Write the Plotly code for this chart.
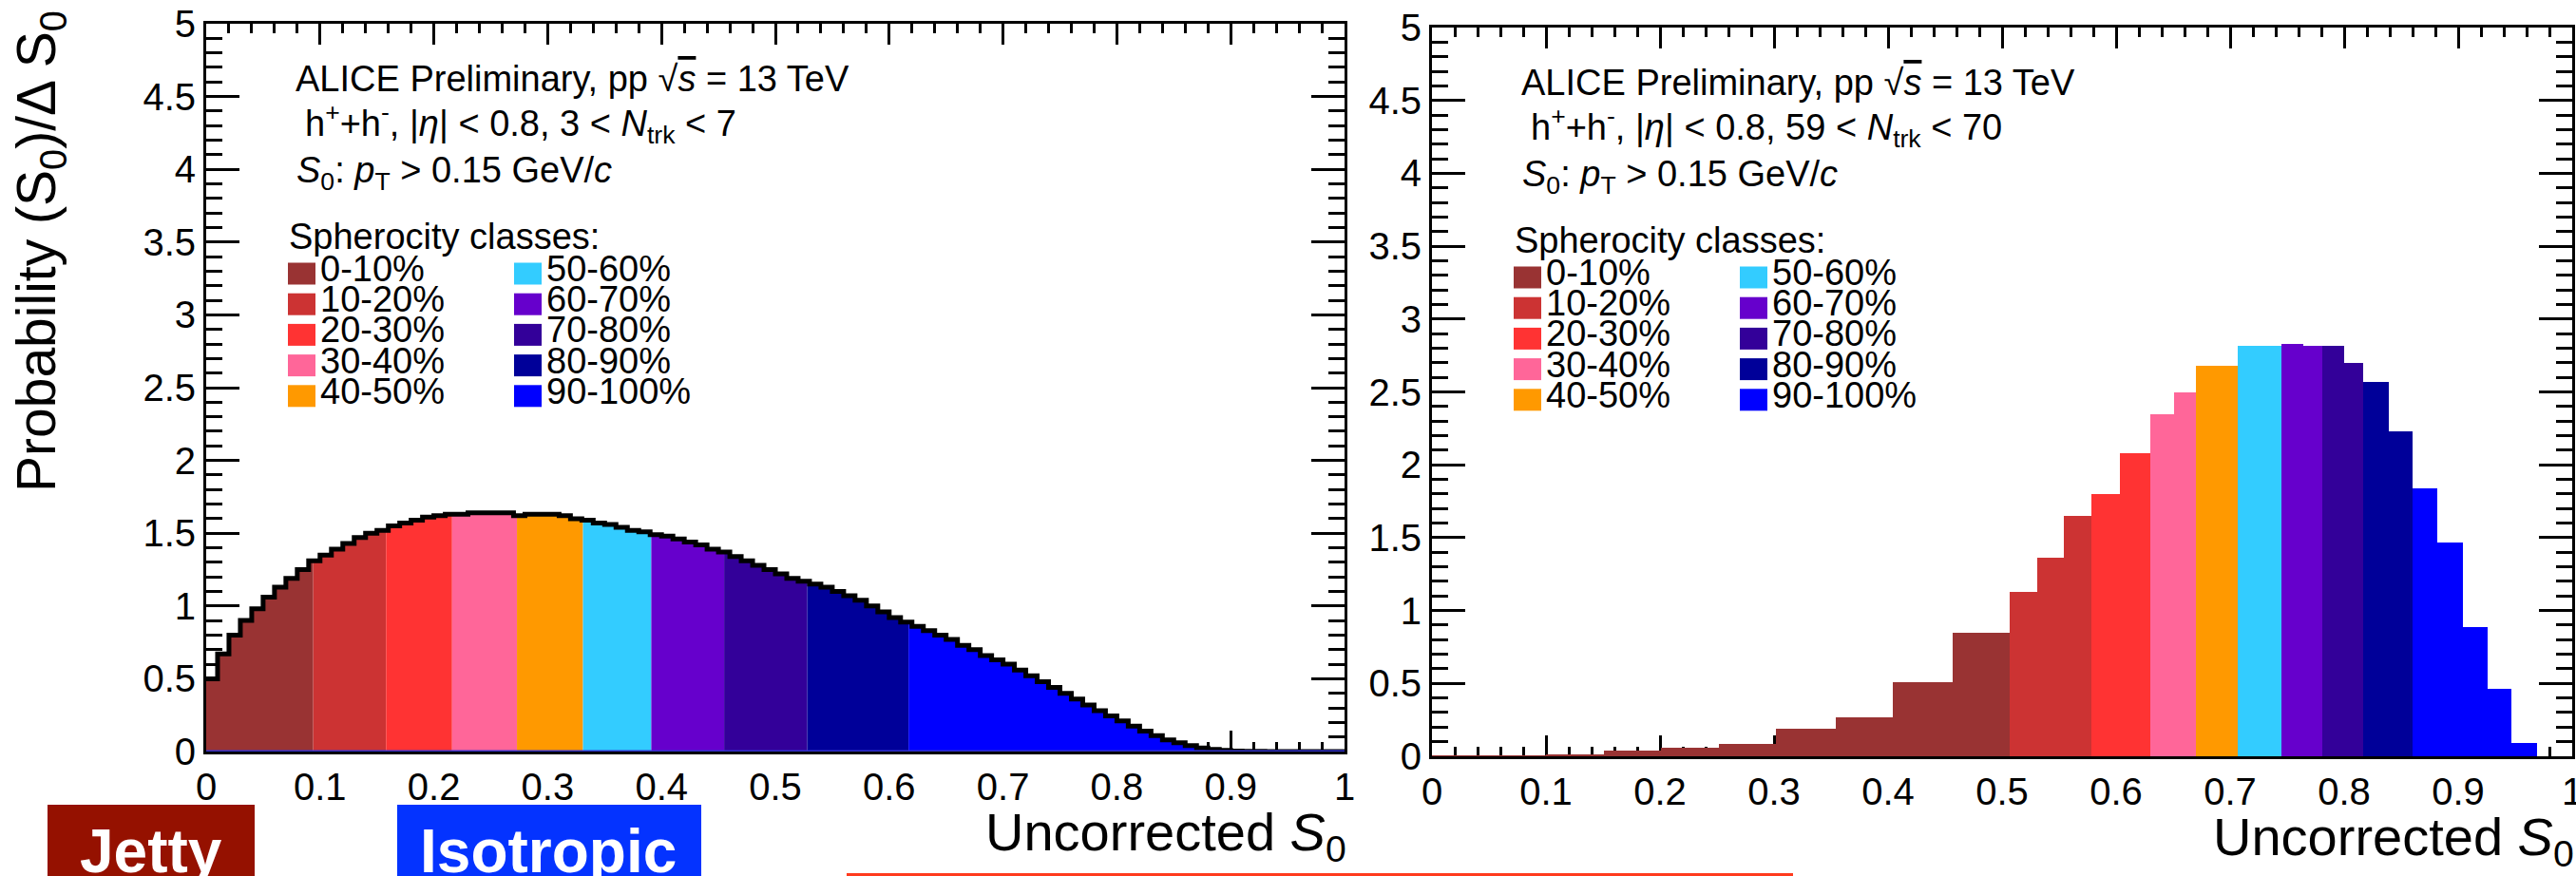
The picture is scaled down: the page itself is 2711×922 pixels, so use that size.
import plotly.graph_objects as go

W, H = 2711, 922
FONT = "Liberation Sans, Arial, Helvetica, sans-serif"

# ---------------- data ----------------
class_labels = ["0-10%", "10-20%", "20-30%", "30-40%", "40-50%",
                "50-60%", "60-70%", "70-80%", "80-90%", "90-100%"]
class_colors = ["#993333", "#cc3333", "#ff3333", "#ff6699", "#ff9900",
                "#33ccff", "#6600cc", "#330099", "#000099", "#0000ff"]

# Left panel: 3 < Ntrk < 7, histogram with bins of width 0.01 on [0, 1]
left_bin_width = 0.01
left_values = [
    0.50, 0.67, 0.80, 0.90, 0.98, 1.06, 1.13, 1.19, 1.25, 1.31,
    1.35, 1.39, 1.43, 1.47, 1.50, 1.52, 1.55, 1.57, 1.59, 1.61,
    1.62, 1.63, 1.63, 1.64, 1.64, 1.64, 1.64, 1.62, 1.63, 1.63,
    1.63, 1.62, 1.60, 1.59, 1.57, 1.56, 1.54, 1.52, 1.51, 1.49,
    1.48, 1.46, 1.44, 1.42, 1.39, 1.37, 1.34, 1.31, 1.28, 1.25,
    1.22, 1.19, 1.17, 1.15, 1.13, 1.10, 1.07, 1.04, 1.00, 0.96,
    0.92, 0.89, 0.86, 0.83, 0.80, 0.77, 0.73, 0.70, 0.66, 0.63,
    0.60, 0.56, 0.52, 0.48, 0.44, 0.40, 0.36, 0.32, 0.28, 0.245,
    0.21, 0.175, 0.14, 0.11, 0.08, 0.06, 0.04, 0.025, 0.015, 0.008,
    0.004, 0.002, 0.001, 0.0, 0.0, 0.0, 0.0, 0.0, 0.0, 0.0,
]
# S0 boundaries between the spherocity classes (left panel)
left_class_edges = [0.0, 0.094, 0.158, 0.216, 0.273, 0.331, 0.391, 0.455, 0.528, 0.617, 1.0]

# Right panel: 59 < Ntrk < 70, variable-width bins
right_edges = [0.0, 0.05, 0.10, 0.151, 0.201, 0.252, 0.302, 0.354, 0.404, 0.457, 0.507,
               0.531, 0.554, 0.578, 0.603, 0.630, 0.651, 0.670, 0.707, 0.745, 0.764,
               0.781, 0.800, 0.817, 0.839, 0.860, 0.882, 0.904, 0.926, 0.947, 0.969, 1.0]
right_values = [0.003, 0.006, 0.012, 0.04, 0.06, 0.086, 0.19, 0.27, 0.51, 0.845,
                1.125, 1.36, 1.65, 1.80, 2.08, 2.35, 2.50, 2.68, 2.815, 2.83,
                2.815, 2.815, 2.70, 2.57, 2.23, 1.84, 1.47, 0.885, 0.465, 0.09, 0.0]
right_class = [0] * 10 + [1] * 3 + [2] * 2 + [3] * 2 + [4] + [5] + [6] * 2 + [7] * 2 + [8] * 2 + [9] * 6

SQRTS = "√<span style='text-decoration:overline'><i>s</i></span>"
left_texts = ["ALICE Preliminary, pp " + SQRTS + " = 13 TeV",
              "h<sup>+</sup>+h<sup>-</sup>, |<i>η</i>| &lt; 0.8, 3 &lt; <i>N</i><sub>trk</sub> &lt; 7",
              "<i>S</i><sub>0</sub>: <i>p</i><sub>T</sub> &gt; 0.15 GeV/<i>c</i>"]
right_texts = ["ALICE Preliminary, pp " + SQRTS + " = 13 TeV",
               "h<sup>+</sup>+h<sup>-</sup>, |<i>η</i>| &lt; 0.8, 59 &lt; <i>N</i><sub>trk</sub> &lt; 70",
               "<i>S</i><sub>0</sub>: <i>p</i><sub>T</sub> &gt; 0.15 GeV/<i>c</i>"]

# ---------------- layout geometry (pixels) ----------------
LEFT = dict(x0=217, x1=1415, y0=25, y1=791)
RIGHT = dict(x0=1507, x1=2707, y0=29, y1=796)


def fx(p):
    return p / W


def fy(p):
    return 1 - p / H


def step_segment(edges, vals, lo, hi):
    xs, ys = [], []
    for i, v in enumerate(vals):
        a, b = edges[i], edges[i + 1]
        if b <= lo or a >= hi:
            continue
        xs.append(max(a, lo))
        ys.append(v)
    xs.append(hi)
    ys.append(ys[-1])
    return xs, ys


fig = go.Figure()

# ---- left panel: filled class areas + outline ----
left_edges = [round(i * left_bin_width, 4) for i in range(len(left_values) + 1)]
for k in range(len(class_labels)):
    xs, ys = step_segment(left_edges, left_values, left_class_edges[k], left_class_edges[k + 1])
    fig.add_trace(go.Scatter(x=xs, y=ys, mode="lines", line=dict(width=0, shape="hv", color=class_colors[k]),
                             fill="tozeroy", fillcolor=class_colors[k], xaxis="x", yaxis="y",
                             showlegend=False, hoverinfo="skip"))
xs, ys = step_segment(left_edges, left_values, 0.0, 1.0)
fig.add_trace(go.Scatter(x=xs, y=ys, mode="lines", line=dict(width=5, shape="hv", color="black"),
                         xaxis="x", yaxis="y", showlegend=False, hoverinfo="skip"))

# ---- right panel: variable-width bars ----
centers = [(right_edges[i] + right_edges[i + 1]) / 2 for i in range(len(right_values))]
widths = [right_edges[i + 1] - right_edges[i] for i in range(len(right_values))]
fig.add_trace(go.Bar(x=centers, y=right_values, width=widths,
                     marker=dict(color=[class_colors[c] for c in right_class], line=dict(width=0)),
                     xaxis="x2", yaxis="y2", showlegend=False, hoverinfo="skip"))


def axis(domain, rng, dtick, minor_dtick, ticklen, minor_len, anchor):
    return dict(domain=domain, range=rng, anchor=anchor, dtick=dtick, tick0=0, automargin=False,
                showline=True, linecolor="black", linewidth=3, mirror="allticks",
                ticks="inside", ticklen=ticklen, tickwidth=3, tickcolor="black",
                minor=dict(dtick=minor_dtick, ticklen=minor_len, tickwidth=3, tickcolor="black", ticks="inside"),
                showgrid=False, zeroline=False, layer="below traces", ticklabeloverflow="allow",
                tickfont=dict(size=40, color="black", family=FONT), fixedrange=True)


layout = dict(
    width=W, height=H, autosize=False, margin=dict(l=0, r=0, t=0, b=0, pad=0),
    paper_bgcolor="white", plot_bgcolor="white", barmode="overlay", bargap=0,
    font=dict(family=FONT, color="black"),
    xaxis=axis([fx(LEFT["x0"]), fx(LEFT["x1"])], [0, 1], 0.1, 0.02, 22, 10, "y"),
    yaxis=axis([fy(LEFT["y1"]), fy(LEFT["y0"])], [0, 5], 0.5, 0.1, 35, 17, "x"),
    xaxis2=axis([fx(RIGHT["x0"]), fx(RIGHT["x1"])], [0, 1], 0.1, 0.02, 22, 10, "y2"),
    yaxis2=axis([fy(RIGHT["y1"]), fy(RIGHT["y0"])], [0, 5], 0.5, 0.1, 35, 17, "x2"),
)
fig.update_layout(**layout)

annotations = []
shapes = []


def ann(text, x, y, size, xanchor="left", yanchor="middle", color="black", angle=0):
    return dict(text=text, x=fx(x), y=fy(y), xref="paper", yref="paper", xanchor=xanchor,
                yanchor=yanchor, showarrow=False, textangle=angle, borderpad=0,
                font=dict(size=size, color=color, family=FONT))


for P, texts in ((LEFT, left_texts), (RIGHT, right_texts)):
    x0, y0 = P["x0"], P["y0"]
    annotations.append(ann(texts[0], x0 + 93, y0 + 58, 38))
    annotations.append(ann(texts[1], x0 + 103, y0 + 105, 38))
    annotations.append(ann(texts[2], x0 + 94, y0 + 157, 38))
    annotations.append(ann("Spherocity classes:", x0 + 86, y0 + 224, 38))
    for k, lab in enumerate(class_labels):
        col, row = divmod(k, 5)
        sx = x0 + (86 if col == 0 else 324)
        cy = y0 + 263 + 32.2 * row
        shapes.append(dict(type="rect", xref="paper", yref="paper", x0=fx(sx), x1=fx(sx + 29),
                           y0=fy(cy + 11.5), y1=fy(cy - 11.5), fillcolor=class_colors[k],
                           line=dict(width=0)))
        annotations.append(ann(lab, sx + 33, cy - 5, 38))
    annotations.append(ann("Uncorrected <i>S</i><sub>0</sub>", P["x1"] + 3, P["y1"] + 88, 56,
                           xanchor="right"))

annotations.append(ann("Probability (S<sub>0</sub>)/Δ S<sub>0</sub>", 42, 265, 57,
                       xanchor="center", angle=-90))

# blue baseline of the left histogram
shapes.append(dict(type="line", xref="x", yref="y", x0=0, x1=1, y0=0, y1=0,
                   line=dict(color="#3333cc", width=3), layer="above"))

# slide boxes at the bottom
shapes.append(dict(type="rect", xref="paper", yref="paper", x0=fx(50), x1=fx(268), y0=fy(940), y1=fy(847),
                   fillcolor="#951100", line=dict(width=0)))
shapes.append(dict(type="rect", xref="paper", yref="paper", x0=fx(418), x1=fx(738), y0=fy(940), y1=fy(847),
                   fillcolor="#0433ff", line=dict(width=0)))
shapes.append(dict(type="rect", xref="paper", yref="paper", x0=fx(891), x1=fx(1887), y0=fy(940), y1=fy(919),
                   fillcolor="#ff3b1e", line=dict(width=0)))
annotations.append(ann("<b>Jetty</b>", 159, 896, 64, xanchor="center", color="white"))
annotations.append(ann("<b>Isotropic</b>", 577, 896, 64, xanchor="center", color="white"))

fig.update_layout(annotations=annotations, shapes=shapes)
fig.write_html("out.html")
